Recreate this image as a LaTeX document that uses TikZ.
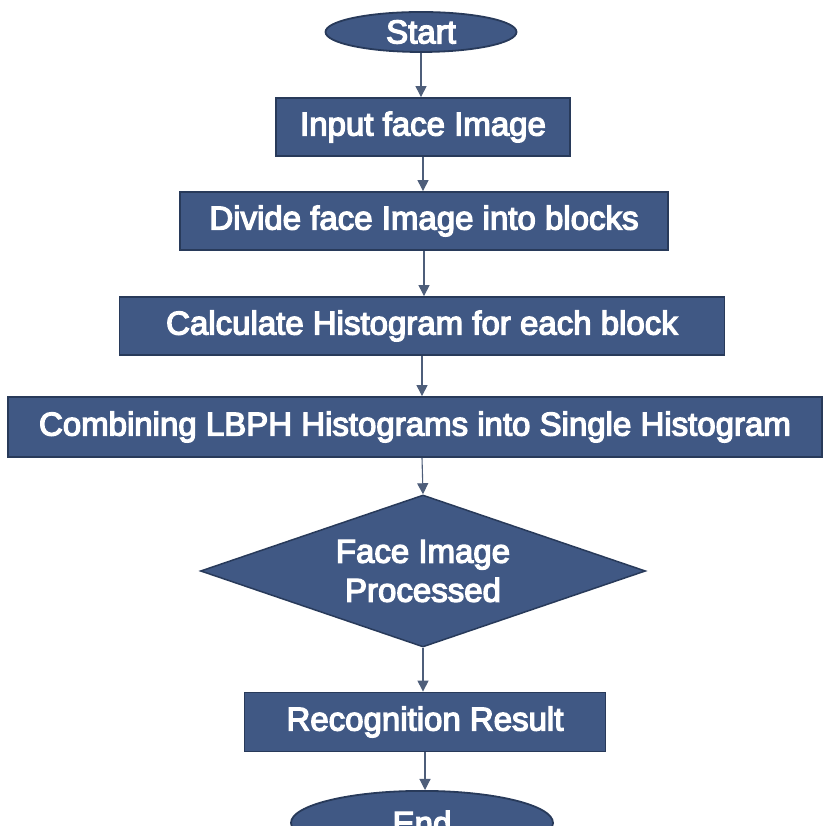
\documentclass[tikz,border=0pt]{standalone}
\usepackage{fontspec}
\setmainfont{Liberation Sans}
\newfontfamily\flowfont{Liberation Sans}[FakeBold=4]
\usetikzlibrary{shapes.geometric,arrows.meta}
\definecolor{boxfill}{RGB}{64,88,132}
\definecolor{boxline}{RGB}{40,58,90}
\definecolor{arrowline}{RGB}{78,94,122}
\tikzset{
  x=1pt, y=1pt,
  flowtext/.style={text=white, font=\flowfont\fontsize{33}{39}\selectfont, inner sep=0pt, align=center},
  procbox/.style={flowtext, rectangle, fill=boxfill, draw=boxline, line width=1.8pt},
  terminal/.style={flowtext, ellipse, fill=boxfill, draw=boxline, line width=1.8pt},
  decision/.style={flowtext, diamond, aspect=2.9, fill=boxfill, draw=boxline, line width=1.5pt},
  flowarrow/.style={draw=arrowline, line width=1.1pt, -{Triangle[width=11pt,length=11pt]}}
}
\begin{document}
\begin{tikzpicture}
\useasboundingbox (0,0) rectangle (824,826);
\fill[white] (0,0) rectangle (824,826);

\node[terminal, minimum width=191, minimum height=40] (start) at (421,794) {Start};
\node[procbox, minimum width=294, minimum height=58] (input) at (423,699) {Input face Image};
\node[procbox, minimum width=488, minimum height=58] (divide) at (424,605) {Divide face Image into blocks};
\node[procbox, minimum width=605, minimum height=58] (calc) at (422,500) {Calculate Histogram for each block};
\node[procbox, minimum width=814, minimum height=60] (comb) at (415,399) {Combining LBPH Histograms into Single Histogram};
\node[decision, minimum width=445, minimum height=152] (proc) at (423,255) {Face Image\\Processed};
\node[procbox, minimum width=361, minimum height=59] (result) at (425,104) {Recognition Result};
\node[terminal, minimum width=262, minimum height=64, anchor=north] (end) at (422,36) {End};

\draw[flowarrow] (start.south) -- (start.south |- input.north);
\draw[flowarrow] (input.south) -- (input.south |- divide.north);
\draw[flowarrow] (divide.south) -- (divide.south |- calc.north);
\draw[flowarrow] (calc.south) -- (calc.south |- comb.north);
\draw[flowarrow] (calc.south |- comb.south) -- (proc.north);
\draw[flowarrow] (proc.south) -- (proc.south |- result.north);
\draw[flowarrow] (result.south) -- (result.south |- end.north);
\end{tikzpicture}
\end{document}
